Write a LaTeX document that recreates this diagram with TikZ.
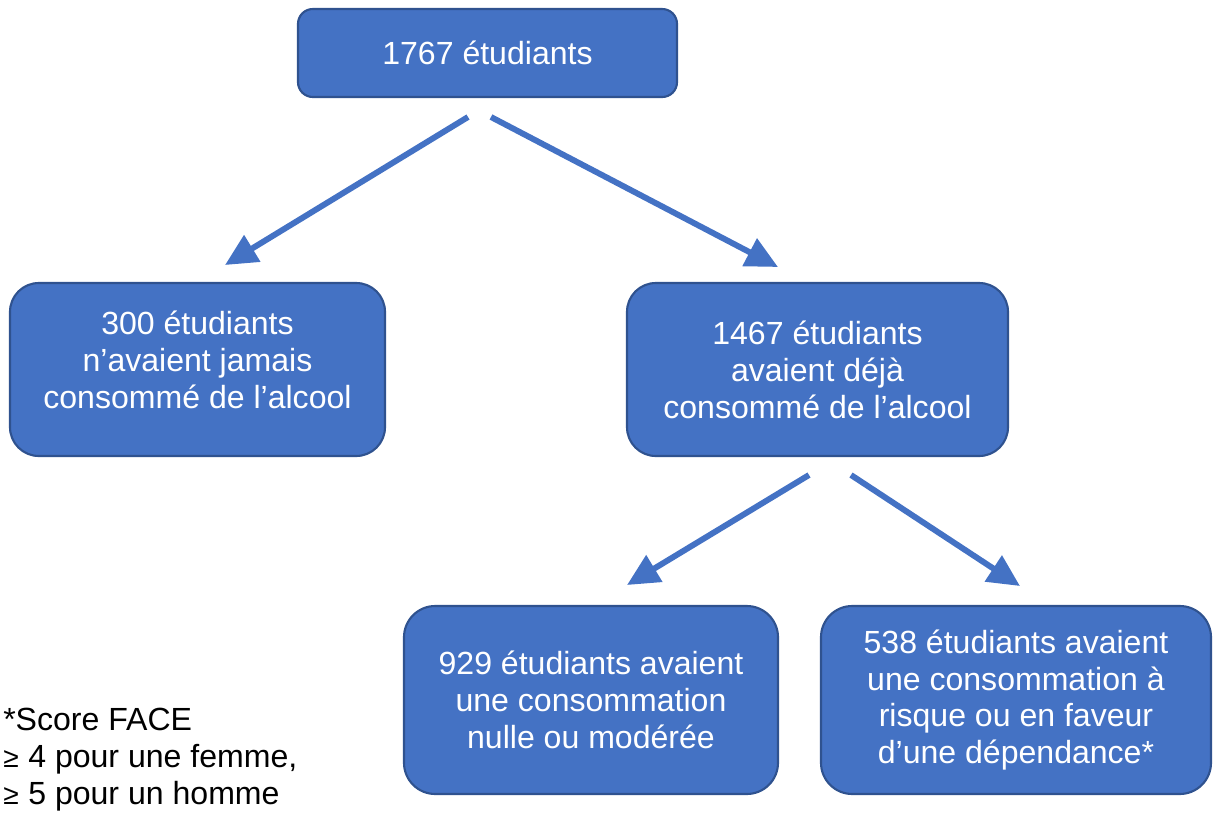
\documentclass[tikz,border=0pt]{standalone}
\usepackage{fontspec}
\setmainfont{Liberation Sans}
\usetikzlibrary{arrows.meta}
\definecolor{boxfill}{HTML}{4472C4}
\definecolor{boxline}{HTML}{2F528F}
\newcommand{\geqsym}{{\fontsize{20}{26.3}\selectfont ≥}\hspace{0.3em}}
\tikzset{
    box/.style={draw=boxline, line width=1.5pt, fill=boxfill, text=white, align=center, inner sep=0pt, font=\fontsize{22.8}{26.3}\selectfont},
    boxtext/.style={text=white, align=center, inner sep=0pt, font=\fontsize{22.8}{26.3}\selectfont},
    flow/.style={draw=boxfill, line width=4.2pt, -{Triangle[length=0.8cm,width=0.75cm]}}
}

\begin{document}
\begin{tikzpicture}
        \useasboundingbox (0,0) rectangle (30.325,-20.425);
        \node[box, rounded corners=0.37cm, minimum width=9.475cm, minimum height=2.2cm] (all) at (12.1875,-1.325) {1767 étudiants};
        \node[box, rounded corners=0.72cm, minimum width=9.375cm, minimum height=4.325cm] (never) at (4.9375,-9.2375) {};
        \node[boxtext] (nevertext) at ([yshift=0.25cm]never.center) {300 étudiants\\n’avaient jamais\\consommé de l’alcool};
        \node[box, rounded corners=0.72cm, minimum width=9.525cm, minimum height=4.325cm] (ever) at (20.4375,-9.2375) {1467 étudiants\\avaient déjà\\consommé de l’alcool};
        \node[box, rounded corners=0.78cm, minimum width=9.35cm, minimum height=4.7cm] (moderate) at (14.775,-17.5) {929 étudiants avaient\\une consommation\\nulle ou modérée};
        \node[box, rounded corners=0.78cm, minimum width=9.75cm, minimum height=4.7cm] (risk) at (25.4,-17.5) {538 étudiants avaient\\une consommation à\\risque ou en faveur\\d’une dépendance*};
        \node[anchor=north west, align=left, inner sep=0pt, font=\fontsize{22.8}{26.3}\selectfont] (face) at (0.075,-17.7) {*Score FACE\\\geqsym 4 pour une femme,\\\geqsym 5 pour un homme};
        \coordinate (allL) at (11.7,-2.925);
        \coordinate (allR) at (12.275,-2.925);
        \coordinate (neverT) at (5.625,-6.625);
        \coordinate (everT) at (19.45,-6.675);
        \coordinate (everL) at (20.225,-11.875);
        \coordinate (everR) at (21.275,-11.875);
        \coordinate (moderateT) at (15.675,-14.625);
        \coordinate (riskT) at (25.5,-14.65);
        \draw[flow] (allL) -- (neverT);
        \draw[flow] (allR) -- (everT);
        \draw[flow] (everL) -- (moderateT);
        \draw[flow] (everR) -- (riskT);
\end{tikzpicture}
\end{document}
